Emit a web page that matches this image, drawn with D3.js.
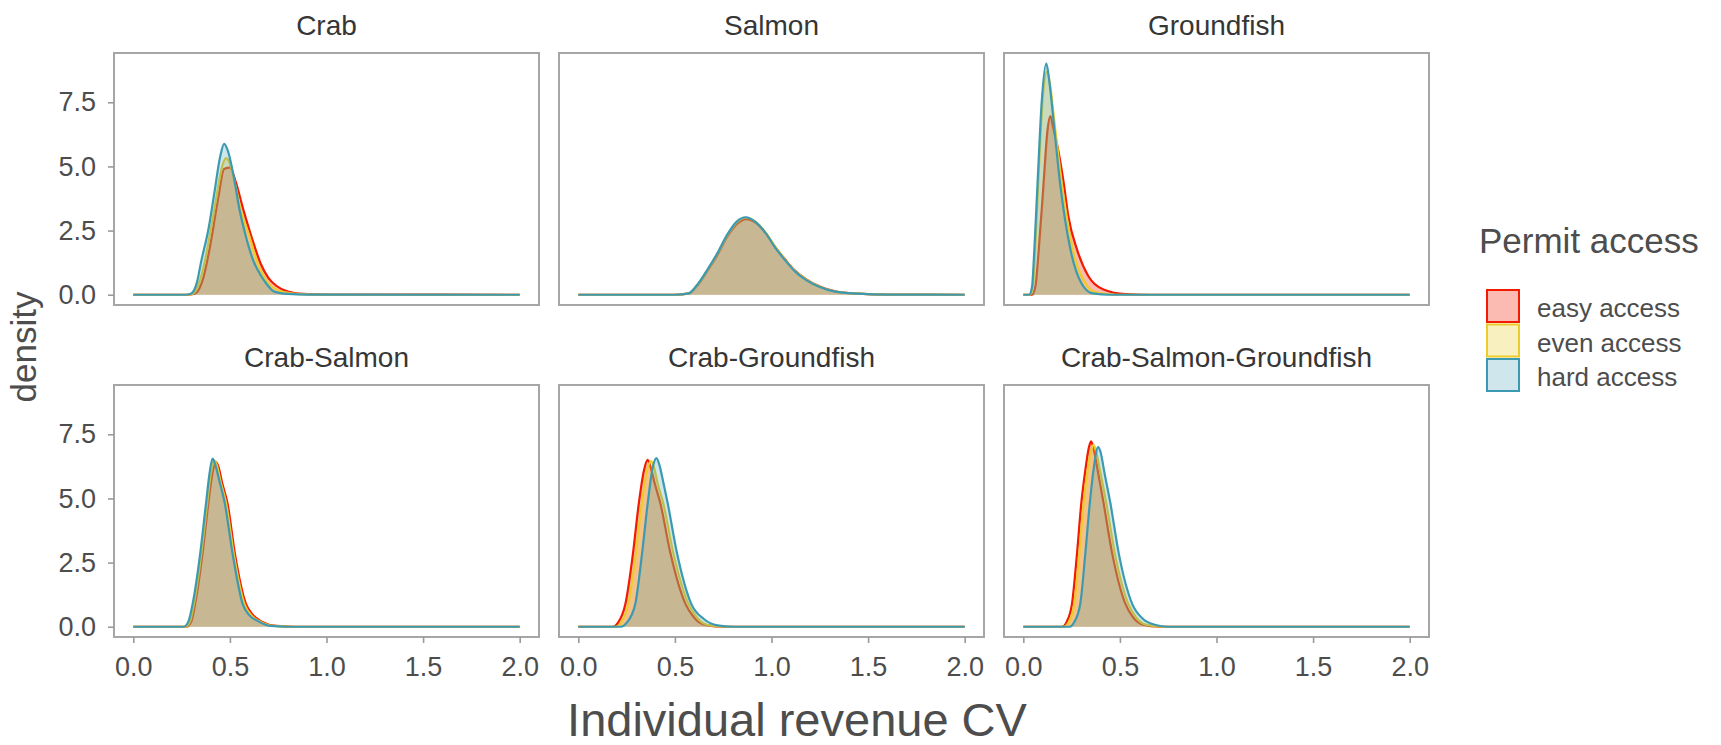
<!DOCTYPE html>
<html>
<head>
<meta charset="utf-8">
<script src="https://cdn.jsdelivr.net/npm/d3@7"></script>
<style>
  body { margin: 0; background: #fff; }
  svg text { font-family: "Liberation Sans", Arial, sans-serif; }
</style>
</head>
<body>
<div class="svg-container"></div>
<script>
// facet order, legend levels, axis ticks
let panelNames = ['Crab', 'Salmon', 'Groundfish', 'Crab-Salmon', 'Crab-Groundfish', 'Crab-Salmon-Groundfish']
let accessLevels = ['easy access', 'even access', 'hard access']
let xTicks = [0, 0.5, 1, 1.5, 2]
let yTicks = [0, 2.5, 5, 7.5]

// density curves as [revenue CV, density]
let crabEasy = [[0,0],[0.28,0],[0.32,0.05],[0.36,0.6],[0.40,2.0],[0.44,3.8],[0.47,4.9],[0.50,4.95],[0.53,4.4],[0.57,3.3],[0.61,2.3],[0.66,1.2],[0.70,0.65],[0.74,0.35],[0.80,0.12],[0.88,0.03],[1.0,0.005],[2.0,0]]
let crabEven = [[0,0],[0.28,0],[0.31,0.05],[0.34,0.45],[0.37,1.3],[0.40,2.5],[0.43,3.8],[0.46,5.0],[0.48,5.32],[0.50,5.1],[0.53,4.2],[0.56,3.2],[0.60,2.3],[0.64,1.3],[0.68,0.65],[0.72,0.3],[0.78,0.1],[0.86,0.02],[1.0,0],[2.0,0]]
let crabHard = [[0,0],[0.27,0],[0.30,0.05],[0.33,0.5],[0.35,1.25],[0.39,2.6],[0.42,4.0],[0.45,5.4],[0.47,5.88],[0.49,5.6],[0.52,4.6],[0.55,3.3],[0.58,2.35],[0.62,1.35],[0.66,0.75],[0.69,0.42],[0.73,0.12],[0.80,0.03],[0.9,0.005],[2.0,0]]

let salmonEasy = [[0,0],[0.5,0],[0.57,0.04],[0.62,0.4],[0.67,0.95],[0.72,1.55],[0.77,2.25],[0.82,2.75],[0.87,2.95],[0.92,2.8],[0.97,2.4],[1.02,1.85],[1.07,1.38],[1.12,0.95],[1.18,0.6],[1.25,0.32],[1.33,0.13],[1.45,0.04],[1.6,0.005],[2.0,0]]
let salmonEven = [[0,0],[0.5,0],[0.57,0.05],[0.62,0.42],[0.67,0.98],[0.72,1.6],[0.77,2.3],[0.82,2.82],[0.87,3.0],[0.92,2.83],[0.97,2.42],[1.02,1.86],[1.07,1.37],[1.12,0.94],[1.18,0.59],[1.25,0.31],[1.33,0.12],[1.45,0.04],[1.6,0.005],[2.0,0]]
let salmonHard = [[0,0],[0.5,0],[0.57,0.05],[0.62,0.43],[0.67,1.0],[0.72,1.62],[0.77,2.33],[0.82,2.85],[0.865,3.02],[0.92,2.82],[0.97,2.4],[1.02,1.83],[1.07,1.35],[1.12,0.92],[1.18,0.57],[1.25,0.3],[1.33,0.12],[1.45,0.04],[1.6,0.005],[2.0,0]]

let groundfishEasy = [[0,0],[0.045,0],[0.062,0.3],[0.08,1.76],[0.105,4.36],[0.125,6.4],[0.14,6.96],[0.155,6.5],[0.18,5.66],[0.209,4.36],[0.233,3.06],[0.278,1.76],[0.337,0.72],[0.415,0.2],[0.53,0.02],[0.65,0],[2.0,0]]
let groundfishEven = [[0,0],[0.035,0],[0.05,0.4],[0.062,1.9],[0.078,4.5],[0.098,7.4],[0.122,8.7],[0.14,8.1],[0.16,6.8],[0.20,4.3],[0.255,1.8],[0.32,0.46],[0.38,0.08],[0.48,0],[2.0,0]]
let groundfishHard = [[0,0],[0.03,0],[0.045,0.3],[0.057,1.76],[0.074,4.4],[0.095,7.5],[0.119,9.02],[0.135,8.3],[0.154,6.96],[0.19,4.36],[0.244,1.76],[0.30,0.46],[0.36,0.05],[0.45,0],[2.0,0]]

let crabSalmonEasy = [[0,0],[0.275,0],[0.30,0.2],[0.32,0.89],[0.358,2.84],[0.388,4.79],[0.41,6.0],[0.427,6.42],[0.44,6.25],[0.46,5.6],[0.488,4.79],[0.526,2.84],[0.583,0.89],[0.62,0.45],[0.665,0.2],[0.74,0.03],[0.83,0],[2.0,0]]
let crabSalmonEven = [[0,0],[0.27,0],[0.293,0.2],[0.314,0.89],[0.352,2.84],[0.382,4.79],[0.402,6.0],[0.42,6.48],[0.433,6.28],[0.452,5.65],[0.481,4.79],[0.52,2.84],[0.575,0.89],[0.61,0.45],[0.655,0.21],[0.725,0.03],[0.82,0],[2.0,0]]
let crabSalmonHard = [[0,0],[0.26,0],[0.285,0.2],[0.307,0.89],[0.346,2.84],[0.376,4.79],[0.395,6.0],[0.41,6.55],[0.425,6.3],[0.445,5.7],[0.474,4.79],[0.514,2.84],[0.566,0.89],[0.60,0.45],[0.643,0.23],[0.71,0.03],[0.8,0],[2.0,0]]

let crabGroundEasy = [[0,0],[0.18,0],[0.205,0.15],[0.244,0.9],[0.283,2.86],[0.313,4.8],[0.34,6.1],[0.359,6.5],[0.375,6.2],[0.395,5.6],[0.425,4.8],[0.477,2.86],[0.554,0.9],[0.60,0.35],[0.667,0.05],[0.75,0],[2.0,0]]
let crabGroundEven = [[0,0],[0.195,0],[0.22,0.15],[0.259,0.9],[0.298,2.86],[0.328,4.8],[0.356,6.1],[0.377,6.45],[0.392,6.2],[0.41,5.6],[0.44,4.8],[0.492,2.86],[0.569,0.9],[0.615,0.35],[0.68,0.05],[0.77,0],[2.0,0]]
let crabGroundHard = [[0,0],[0.22,0],[0.25,0.15],[0.295,0.9],[0.33,2.86],[0.359,4.8],[0.385,6.2],[0.404,6.57],[0.42,6.3],[0.438,5.7],[0.463,4.8],[0.511,2.86],[0.584,0.9],[0.65,0.3],[0.72,0.05],[0.8,0],[2.0,0]]

let allThreeEasy = [[0,0],[0.2,0],[0.225,0.2],[0.252,0.9],[0.278,2.86],[0.30,4.8],[0.321,6.1],[0.34,7.0],[0.351,7.22],[0.365,6.9],[0.385,6.1],[0.416,4.8],[0.46,2.86],[0.528,0.9],[0.57,0.35],[0.62,0.08],[0.7,0],[2.0,0]]
let allThreeEven = [[0,0],[0.21,0],[0.237,0.2],[0.264,0.9],[0.29,2.86],[0.312,4.8],[0.333,6.1],[0.352,6.9],[0.364,7.09],[0.378,6.8],[0.398,6.05],[0.43,4.8],[0.474,2.86],[0.543,0.9],[0.585,0.35],[0.635,0.08],[0.72,0],[2.0,0]]
let allThreeHard = [[0,0],[0.24,0],[0.265,0.2],[0.295,0.9],[0.321,2.86],[0.344,4.8],[0.365,6.2],[0.387,7.0],[0.40,6.8],[0.42,6.0],[0.451,4.8],[0.494,2.86],[0.563,0.9],[0.62,0.3],[0.68,0.08],[0.75,0],[2.0,0]]

let panelSeries = [
  [crabEasy, crabEven, crabHard],
  [salmonEasy, salmonEven, salmonHard],
  [groundfishEasy, groundfishEven, groundfishHard],
  [crabSalmonEasy, crabSalmonEven, crabSalmonHard],
  [crabGroundEasy, crabGroundEven, crabGroundHard],
  [allThreeEasy, allThreeEven, allThreeHard]
]

let width = 1721
let height = 745
let panelW = 425
let panelH = 252
let colLeft = [114, 559, 1004]
let rowTop = [53, 385]
let colors = ['#F21A00', '#EBCC2A', '#3B9AB2']
let fillAlpha = [0.3, 0.3, 0.25]
let textColor = '#4d4d4d'

let svg = d3.select('.svg-container')
  .append('svg')
  .attr('width', width)
  .attr('height', height)

let xScale = d3.scaleLinear()
  .domain([-0.1, 2.1])
  .range([0, panelW])

let yScale = d3.scaleLinear()
  .domain([-0.4, 9.42])
  .range([panelH, 0])

let area = d3.area()
  .x(d => xScale(d[0]))
  .y0(yScale(0))
  .y1(d => yScale(d[1]))
  .curve(d3.curveMonotoneX)

let line = d3.line()
  .x(d => xScale(d[0]))
  .y(d => yScale(d[1]))
  .curve(d3.curveMonotoneX)

function styleAxis (g) {
  g.select('.domain').remove()
  g.selectAll('.tick line')
    .attr('stroke', '#9a9a9a')
    .attr('stroke-width', 1.6)
  g.selectAll('.tick text')
    .attr('fill', textColor)
    .style('font-size', '27px')
}

panelNames.forEach((name, i) => {
  let col = i % 3
  let row = Math.floor(i / 3)
  let g = svg.append('g')
    .attr('transform', `translate(${colLeft[col]}, ${rowTop[row]})`)

  g.append('text')
    .attr('x', panelW / 2)
    .attr('y', -18)
    .style('text-anchor', 'middle')
    .style('font-size', '28px')
    .attr('fill', '#363636')
    .text(name)

  panelSeries[i].forEach((s, j) => {
    g.append('path')
      .datum(s)
      .attr('d', area)
      .attr('fill', colors[j])
      .attr('fill-opacity', fillAlpha[j])
    g.append('path')
      .datum(s)
      .attr('d', line)
      .attr('fill', 'none')
      .attr('stroke', colors[j])
      .attr('stroke-width', 2.2)
      .attr('stroke-linejoin', 'round')
  })

  g.append('rect')
    .attr('width', panelW)
    .attr('height', panelH)
    .attr('fill', 'none')
    .attr('stroke', '#a6a6a6')
    .attr('stroke-width', 2)

  if (col === 0) {
    let yAxis = d3.axisLeft(yScale)
      .tickValues(yTicks)
      .tickFormat(d3.format('.1f'))
      .tickSize(6)
      .tickPadding(12)
    g.append('g')
      .call(yAxis)
      .call(styleAxis)
  }

  if (row === 1) {
    let xAxis = d3.axisBottom(xScale)
      .tickValues(xTicks)
      .tickFormat(d3.format('.1f'))
      .tickSize(6)
      .tickPadding(14)
    g.append('g')
      .attr('transform', `translate(0, ${panelH})`)
      .call(xAxis)
      .call(styleAxis)
  }
})

// axis titles
svg.append('text')
  .attr('transform', 'translate(36, 347) rotate(-90)')
  .style('text-anchor', 'middle')
  .style('font-size', '35px')
  .attr('fill', textColor)
  .text('density')

svg.append('text')
  .attr('x', 797)
  .attr('y', 736)
  .style('text-anchor', 'middle')
  .style('font-size', '47px')
  .attr('fill', textColor)
  .text('Individual revenue CV')

// legend
let legend = svg.append('g')
  .attr('transform', 'translate(1479, 0)')

legend.append('text')
  .attr('x', 0)
  .attr('y', 253)
  .style('font-size', '35px')
  .attr('fill', textColor)
  .text('Permit access')

let keys = legend.selectAll('g.key')
  .data(accessLevels)
  .enter()
  .append('g')
  .attr('class', 'key')
  .attr('transform', (d, i) => `translate(8, ${290 + i * 34.5})`)

keys.append('rect')
  .attr('width', 32)
  .attr('height', 32)
  .attr('fill', (d, i) => colors[i])
  .attr('fill-opacity', (d, i) => fillAlpha[i])
  .attr('stroke', (d, i) => colors[i])
  .attr('stroke-width', 2)

keys.append('text')
  .attr('x', 50)
  .attr('y', 27)
  .style('font-size', '26px')
  .attr('fill', textColor)
  .text(d => d)
</script>
</body>
</html>
